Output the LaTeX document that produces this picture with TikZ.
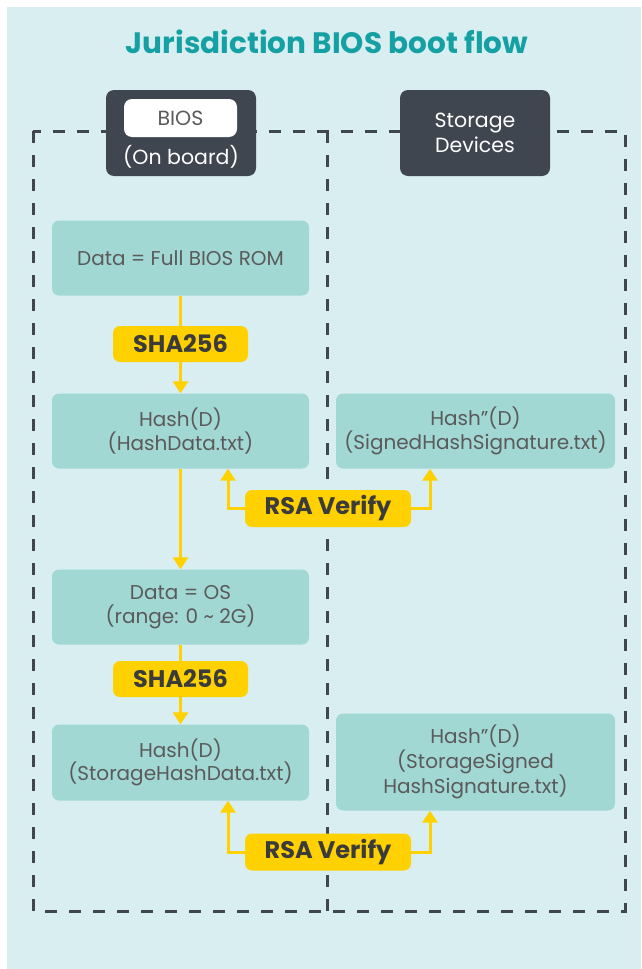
\documentclass[tikz,border=0pt]{standalone}
\usepackage{fontspec}
\setmainfont{Poppins}
\usetikzlibrary{arrows.meta}
\definecolor{bgc}{HTML}{D9EEF1}
\definecolor{titlec}{HTML}{15A0A3}
\definecolor{darkc}{HTML}{40464F}
\definecolor{boxc}{HTML}{A2D8D4}
\definecolor{txtc}{HTML}{5A5A5A}
\definecolor{yelc}{HTML}{FFD100}
\definecolor{ytxt}{HTML}{3B3B3B}
\begin{document}
\begin{tikzpicture}[x=1pt,y=-1pt,
  procbox/.style={fill=boxc, rounded corners=7pt, inner sep=0pt, align=center, text=txtc, font=\fontsize{20}{23.5}\selectfont},
  opbox/.style={fill=yelc, rounded corners=7pt, inner sep=0pt, align=center, text=ytxt, font=\fontsize{24}{26}\selectfont\bfseries},
  headbox/.style={fill=darkc, rounded corners=8pt, inner sep=0pt, align=center, text=white, font=\fontsize{20.5}{25}\selectfont},
  frame/.style={draw=darkc, line width=3pt, dash pattern=on 12pt off 12pt},
  flow/.style={draw=yelc, line width=3pt},
  flowarr/.style={flow, -{Triangle[length=12pt,width=15pt]}}]
\useasboundingbox (0,0) rectangle (641,969);
\fill[bgc] (7,7) rectangle (641,969);
\node[text=titlec, font=\fontsize{29.5}{32}\selectfont\bfseries] (title) at (327,42) {Jurisdiction BIOS boot flow};
% frame
\draw[frame] (33,131) rectangle (625,911);
\draw[frame] (327,131) -- (327,911);
% headers
\node[headbox, minimum width=150pt, minimum height=86pt] (bioshead) at (181,133) {};
\node[fill=white, rounded corners=8pt, minimum width=113pt, minimum height=38pt, inner sep=0pt, text=txtc, font=\fontsize{20.5}{23}\selectfont] (biosin) at (180.5,118) {BIOS};
\node[text=white, font=\fontsize{20.5}{23}\selectfont] (onboard) at (181,157) {(On board)};
\node[headbox, minimum width=150pt, minimum height=86pt] (storhead) at (475,133) {Storage\\Devices};
% left column
\node[procbox, minimum width=257pt, minimum height=75pt] (data1) at (180.5,258) {Data = Full BIOS ROM};
\node[opbox, minimum width=135pt, minimum height=36pt] (sha1) at (180.5,344) {SHA256};
\node[procbox, minimum width=257pt, minimum height=75pt] (hash1) at (180.5,431) {Hash(D)\\(HashData.txt)};
\node[procbox, minimum width=257pt, minimum height=75pt] (data2) at (180.5,607) {Data = OS\\(range: 0 \textasciitilde{} 2G)};
\node[opbox, minimum width=135pt, minimum height=36pt] (sha2) at (180.5,679) {SHA256};
\node[procbox, minimum width=257pt, minimum height=76pt] (hash2) at (180.5,762.5) {Hash(D)\\(StorageHashData.txt)};
% right column
\node[procbox, minimum width=279pt, minimum height=75pt] (sig1) at (475.5,431) {Hash\symbol{34}(D)\\(SignedHashSignature.txt)};
\node[procbox, minimum width=279pt, minimum height=97pt, font=\fontsize{20}{25}\selectfont] (sig2) at (475.5,762) {Hash\symbol{34}(D)\\(StorageSigned\\HashSignature.txt)};
% rsa
\node[opbox, minimum width=166pt, minimum height=37pt] (rsa1) at (328,508.5) {RSA Verify};
\node[opbox, minimum width=166pt, minimum height=37pt] (rsa2) at (328,852) {RSA Verify};
% flows
\draw[flow] (data1.south) -- (sha1.north);
\draw[flowarr] (sha1.south) -- (hash1.north);
\draw[flowarr] (hash1.south) -- (data2.north);
\draw[flow] (data2.south) -- (sha2.north);
\draw[flowarr] (sha2.south) -- (hash2.north);
\draw[flowarr] (rsa1.west) -| (hash1.south -| 228,0);
\draw[flowarr] (rsa1.east) -| (sig1.south -| 430,0);
\draw[flowarr] (rsa2.west) -| (hash2.south -| 228,0);
\draw[flowarr] (rsa2.east) -| (sig2.south -| 430,0);
\end{tikzpicture}
\end{document}
